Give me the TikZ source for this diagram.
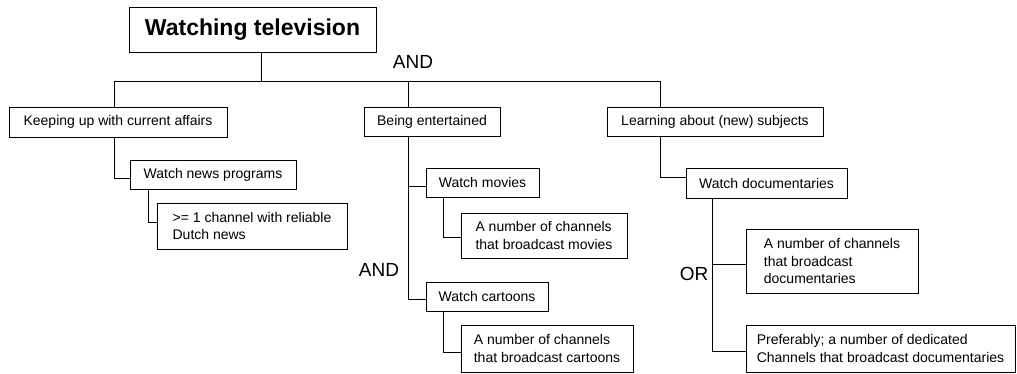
\documentclass[tikz,border=0pt]{standalone}
\usepackage{fontspec}
\setmainfont{Liberation Sans}
\usepackage{tikz}
\tikzstyle{goal} = [draw=black, line width=1pt, rectangle, anchor=north west,
    outer sep=0pt, inner sep=2pt, align=left, font=\fontsize{14}{17.5}\selectfont]
\tikzstyle{toptitle} = [goal, align=center, font=\fontsize{23}{28}\selectfont\bfseries]
\tikzstyle{junction} = [inner sep=0pt, font=\fontsize{19}{22}\selectfont]
\tikzstyle{link} = [draw=black, line width=1pt]

\begin{document}
\begin{tikzpicture}[x=1pt, y=-1pt]
                \useasboundingbox (0,0) rectangle (1017,373);
                \node [toptitle, minimum width=247pt, minimum height=45pt] (title) at (129,7) {Watching television};

                \node [goal, minimum width=218pt, minimum height=30pt] (keeping) at (9,107) {Keeping up with current affairs};
                \node [goal, minimum width=136pt, minimum height=29pt] (being) at (364,107) {Being entertained};
                \node [goal, minimum width=216pt, minimum height=29pt] (learning) at (607,107) {Learning about (new) subjects};

                \node [goal, minimum width=166pt, minimum height=29pt] (news) at (130,160) {Watch news programs};
                \node [goal, minimum width=190pt, minimum height=46pt] (dutch) at (157,203) {>= 1 channel with reliable\\Dutch news};

                \node [goal, minimum width=113pt, minimum height=29pt] (movies) at (426,168) {Watch movies};
                \node [goal, minimum width=166pt, minimum height=45pt] (moviech) at (461,213) {A number of channels\\that broadcast movies};
                \node [goal, minimum width=122pt, minimum height=29pt] (cartoons) at (426,282) {Watch cartoons};
                \node [goal, minimum width=172pt, minimum height=47pt] (cartoonch) at (461,325) {A number of channels\\that broadcast cartoons};

                \node [goal, minimum width=161pt, minimum height=30pt] (docs) at (686,168) {Watch documentaries};
                \node [goal, minimum width=172pt, minimum height=64pt] (docch) at (746,229) {A number of channels\\that broadcast\\documentaries};
                \node [goal, minimum width=269pt, minimum height=47pt] (pref) at (746,325) {Preferably; a number of dedicated\\Channels that broadcast documentaries};

                \draw [link] ([xshift=132pt]title.south west) -- ++(0,29) coordinate (fork);
                \draw [link] ([xshift=105pt]keeping.north west) |- (fork);
                \draw [link] ([xshift=44pt]being.north west) |- (fork);
                \draw [link] ([xshift=53pt]learning.north west) |- (fork);

                \draw [link] ([xshift=105pt]keeping.south west) |- ([yshift=-3.5pt]news.west);
                \draw [link] ([xshift=18pt]news.south west) |- ([yshift=4pt]dutch.west);

                \draw [link] ([xshift=44pt]being.south west) |- ([yshift=-3.5pt]movies.west);
                \draw [link] ([xshift=44pt]being.south west) |- ([yshift=-2.5pt]cartoons.west);
                \draw [link] ([xshift=17pt]movies.south west) |- ([yshift=-1.5pt]moviech.west);
                \draw [link] ([xshift=17pt]cartoons.south west) |- ([yshift=-3.5pt]cartoonch.west);

                \draw [link] ([xshift=53pt]learning.south west) |- ([yshift=6pt]docs.west);
                \draw [link] ([xshift=26pt]docs.south west) |- ([yshift=-3pt]docch.west);
                \draw [link] ([xshift=26pt]docs.south west) |- ([yshift=-2.5pt]pref.west);

                \node [junction] (andtop) at (413,62) {AND};
                \node [junction] (andmid) at (379,270) {AND};
                \node [junction] (orlow) at (694,274) {OR};
            \end{tikzpicture}
\end{document}
